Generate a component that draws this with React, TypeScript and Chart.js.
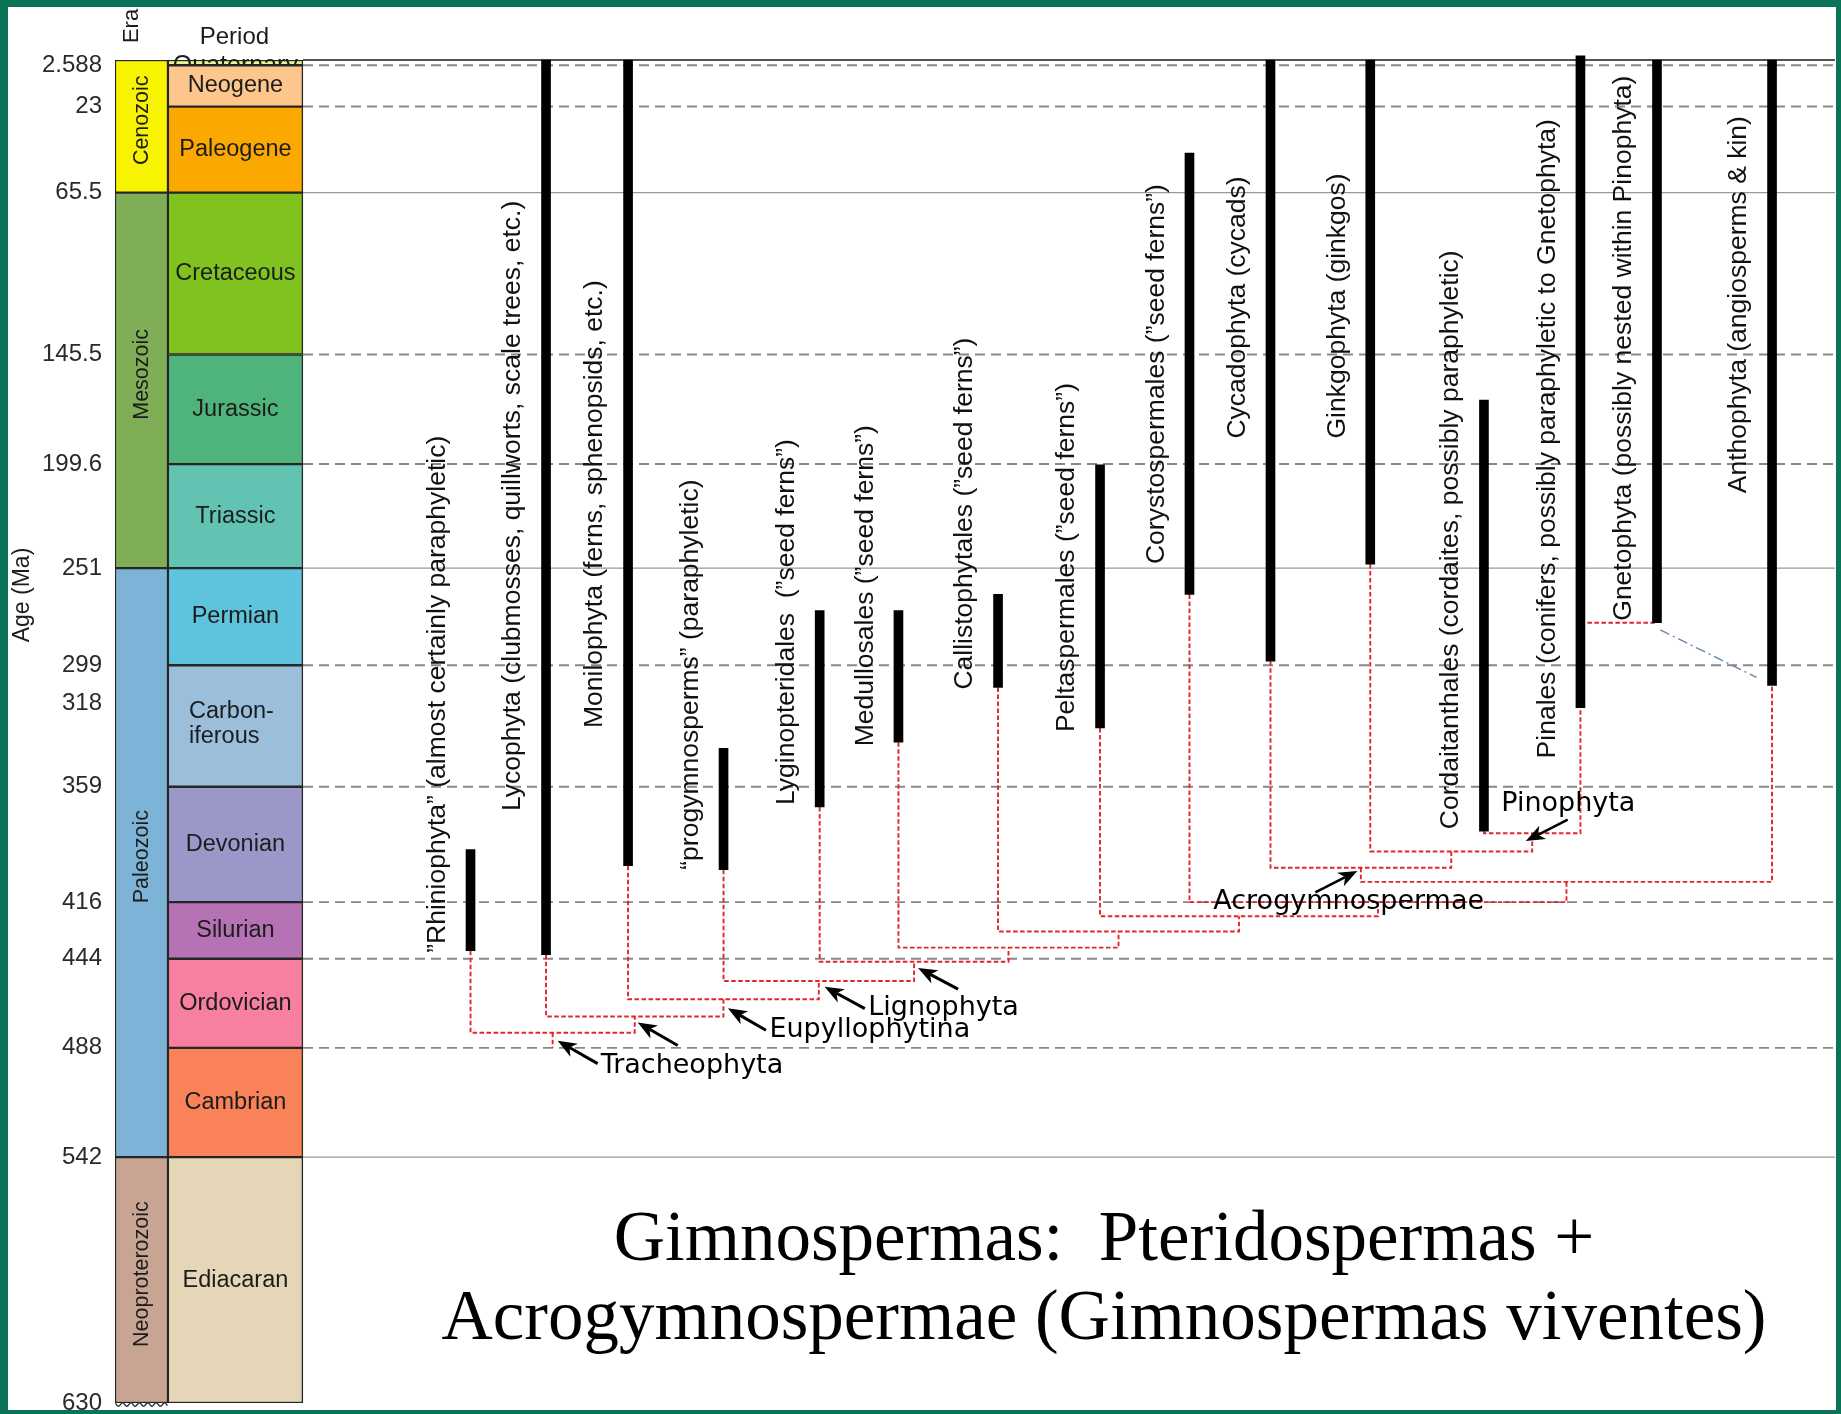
import React, { useEffect, useRef } from 'react';
import { Chart, registerables } from 'chart.js';

Chart.register(...registerables);

// ---------------- geologic time scale ----------------
const tickAges = [2.588, 23, 65.5, 145.5, 199.6, 251, 299, 318, 359, 416, 444, 488, 542, 630];
const tickLabels = ['2.588', '23', '65.5', '145.5', '199.6', '251', '299', '318', '359', '416', '444', '488', '542', '630'];

const eraNames = ['Cenozoic', 'Mesozoic', 'Paleozoic', 'Neoproterozoic'];
const eraStart = [0, 65.5, 251, 542];
const eraEnd = [65.5, 251, 542, 630];

const periodNames = ['Quaternary', 'Neogene', 'Paleogene', 'Cretaceous', 'Jurassic', 'Triassic', 'Permian', 'Carbon-\niferous', 'Devonian', 'Silurian', 'Ordovician', 'Cambrian', 'Ediacaran'];
const periodStart = [0, 2.588, 23, 65.5, 145.5, 199.6, 251, 299, 359, 416, 444, 488, 542];
const periodEnd = [2.588, 23, 65.5, 145.5, 199.6, 251, 299, 359, 416, 444, 488, 542, 630];

const dashedBoundaries = [2.588, 23, 145.5, 199.6, 299, 359, 416, 444, 488];
const solidBoundaries = [65.5, 251, 542];
const presentAge = 0;

// ---------------- lineages (ranges in Ma) ----------------
const taxonKeys = ['Rhin', 'Lyco', 'Moni', 'Prog', 'Lygi', 'Medu', 'Call', 'Pelt', 'Cory', 'Cyca', 'Gink', 'Cord', 'Pina', 'Gnet', 'Anth'];
const taxonLabels = [
  '\u201DRhiniophyta\u201D (almost certainly paraphyletic)',
  'Lycophyta (clubmosses, quillworts, scale trees, etc.)',
  'Monilophyta (ferns, sphenopsids, etc.)',
  '\u201Cprogymnosperms\u201D (paraphyletic)',
  'Lyginopteridales  (\u201Dseed ferns\u201D)',
  'Medullosales (\u201Dseed ferns\u201D)',
  'Callistophytales (\u201Dseed ferns\u201D)',
  'Peltaspermales (\u201Dseed ferns\u201D)',
  'Corystospermales (\u201Dseed ferns\u201D)',
  'Cycadophyta (cycads)',
  'Ginkgophyta (ginkgos)',
  'Cordaitanthales (cordaites, possibly paraphyletic)',
  'Pinales (conifers, possibly paraphyletic to Gnetophyta)',
  'Gnetophyta (possibly nested within Pinophyta)',
  'Anthophyta (angiosperms & kin)',
];
const taxonSlot = [20.67, 25.06, 29.83, 35.38, 40.97, 45.55, 51.34, 57.27, 62.47, 67.18, 72.98, 79.59, 85.2, 89.65, 96.34];
const taxonFirst = [390, 0, 0, 340, 272, 272, 264, 200, 46, 0, 0, 168, -2, 0, 0];
const taxonLast = [440, 442, 398, 400, 369, 337, 310, 330, 264, 297, 249, 381, 320, 278, 309];
const taxonLabelAge = [441, 371, 330, 400, 368, 339, 311, 332, 249, 187, 187, 380, 345, 277, 214];

// ---------------- cladogram (children listed before parents) ----------------
const cladeKeys = ['H', 'G', 'E', 'D', 'F', 'C', 'B', 'A', 'L', 'P', 'Eu', 'V', 'T'];
const cladeChildren = [
  ['Cord', 'Pina'], ['Gink', 'H'], ['Cyca', 'G'], ['E', 'Anth'], ['Cory', 'D'], ['Pelt', 'F'],
  ['Call', 'C'], ['Medu', 'B'], ['Lygi', 'A'], ['Prog', 'L'], ['Moni', 'P'], ['Lyco', 'Eu'], ['Rhin', 'V'],
];
const cladeAge = [382, 391, 399, 406, 416, 423, 430.5, 438.5, 445.5, 455, 464, 472.5, 480.5];
const rootStemAge = 488;
const nestedLink = ['Pina', 'Gnet'];
const uncertainLinkSlot = [89.84, 95.44];
const uncertainLinkAge = [281.5, 305];

const namedCladeKeys = ['T', 'V', 'Eu', 'P', 'L', 'E', 'H'];
const namedCladeText = ['Tracheophyta', '', 'Eupyllophytina', 'Lignophyta', '', 'Acrogymnospermae', 'Pinophyta'];

const titleLines = ['Gimnospermas:  Pteridospermas +', 'Acrogymnospermae (Gimnospermas viventes)'];

// ---------------- presentation ----------------
const EDIACARAN_STRETCH = 1.38;
const toY = (age: number) => (age <= 542 ? age : 542 + (age - 542) * EDIACARAN_STRETCH);

const ERA_COL = 1.54;
const PERIOD_COL = 7.0;
const PERIOD_EDGE = 10.93;
const X_MAX = 100;

const ERA_COLORS = ['#f8f300', '#7fae57', '#7cb3d6', '#c8a492'];
const PERIOD_COLORS = ['#eef58a', '#fcc68c', '#fba800', '#80c31e', '#4fb47c', '#63c3b3', '#5ec4de', '#9bbedb', '#9b98c9', '#b572b5', '#f77fa0', '#f98259', '#e6d6b8'];
const RED = '#e0262c';
const SANS = '"Liberation Sans", Arial, sans-serif';
const GREEN = '#0b7358';

const CLADE_MARKS: Record<string, any> = {
  T: { tip: [5, 8], tail: [45, 31], text: [48, 33.5], lw: 3 },
  V: { tip: [3, 6], tail: [43, 29], lw: 3 },
  Eu: { tip: [4.5, 9], tail: [42.5, 31], text: [46, 31], lw: 3 },
  P: { tip: [5.8, 5.7], tail: [46, 27.6], text: [49.4, 26.5], lw: 3 },
  L: { tip: [4, 6.2], tail: [44, 27.3], lw: 3 },
  E: { tip: [-3.5, 3.2], tail: [-45.5, 24.6], text: [-147.6, 34.4], lw: 2.5 },
  H: { tip: [-6.4, 7.8], tail: [35.5, -13.6], text: [-31, -29], lw: 2.5 },
};

// tree node positions
const nodePos: Record<string, { x: number; age: number }> = {};
taxonKeys.forEach((k, i) => { nodePos[k] = { x: taxonSlot[i], age: taxonLast[i] }; });
cladeKeys.forEach((k, i) => {
  const [l, r] = cladeChildren[i];
  nodePos[k] = { x: (nodePos[l].x + nodePos[r].x) / 2, age: cladeAge[i] };
});

function buildDatasets() {
  const ds: any[] = [];
  const hLine = (age: number, color: string, width: number, dash: number[]) => ({
    type: 'line',
    data: [{ x: PERIOD_EDGE, y: toY(age) }, { x: X_MAX, y: toY(age) }],
    borderColor: color, borderWidth: width, borderDash: dash,
    pointRadius: 0, fill: false, tension: 0, clip: false, order: 20,
  });
  dashedBoundaries.forEach((a) => ds.push(hLine(a, '#888888', 1.9, [10, 6])));
  solidBoundaries.forEach((a) => ds.push(hLine(a, '#999999', 1.2, [])));
  ds.push(hLine(presentAge, '#1a1a1a', 1.6, []));

  ds.push({
    type: 'bar', xAxisID: 'xEra', yAxisID: 'y',
    data: eraStart.map((s, i) => ({ x: ERA_COL, y: [toY(s), toY(eraEnd[i])] })),
    backgroundColor: ERA_COLORS, borderColor: '#262626', borderWidth: 1.5, borderSkipped: false,
    barThickness: 53, maxBarThickness: 53, grouped: false, order: 10,
  });
  ds.push({
    type: 'bar', xAxisID: 'xPer', yAxisID: 'y',
    data: periodStart.map((s, i) => ({ x: PERIOD_COL, y: [toY(s), toY(periodEnd[i])] })),
    backgroundColor: PERIOD_COLORS, borderColor: '#262626', borderWidth: 1.5, borderSkipped: false,
    barThickness: 135, maxBarThickness: 135, grouped: false, order: 9,
  });

  const redLine = (pts: { x: number; y: number }[]) => ({
    type: 'line', data: pts, borderColor: RED, borderWidth: 1.9, borderDash: [4.5, 2.5],
    pointRadius: 0, fill: false, tension: 0, order: 5,
  });
  cladeKeys.forEach((k, i) => {
    const [l, r] = cladeChildren[i];
    const a = nodePos[l], b = nodePos[r], n = nodePos[k];
    ds.push(redLine([
      { x: a.x, y: toY(a.age) }, { x: a.x, y: toY(n.age) },
      { x: b.x, y: toY(n.age) }, { x: b.x, y: toY(b.age) },
    ]));
  });
  const root = nodePos['T'];
  ds.push(redLine([{ x: root.x, y: toY(root.age) }, { x: root.x, y: toY(rootStemAge) }]));
  const na = nodePos[nestedLink[0]], nb = nodePos[nestedLink[1]];
  ds.push(redLine([{ x: na.x, y: toY(nb.age) }, { x: nb.x, y: toY(nb.age) }]));

  ds.push({
    type: 'line',
    data: [{ x: uncertainLinkSlot[0], y: toY(uncertainLinkAge[0]) }, { x: uncertainLinkSlot[1], y: toY(uncertainLinkAge[1]) }],
    borderColor: '#6a86a8', borderWidth: 1.4, borderDash: [10, 4, 2, 4],
    pointRadius: 0, fill: false, tension: 0, order: 5,
  });

  ds.push({
    type: 'bar', xAxisID: 'x', yAxisID: 'y',
    data: taxonSlot.map((s, i) => ({ x: s, y: [toY(taxonFirst[i]), toY(taxonLast[i])] })),
    backgroundColor: '#000', borderWidth: 0,
    barThickness: 9, maxBarThickness: 9, grouped: false, order: 1, clip: false,
  });
  return ds;
}

function drawArrow(ctx: CanvasRenderingContext2D, x1: number, y1: number, x2: number, y2: number, lw: number) {
  const ang = Math.atan2(y2 - y1, x2 - x1);
  const headLen = 19, headW = 15;
  const c = Math.cos(ang), s = Math.sin(ang);
  const bx = x2 - headLen * c, by = y2 - headLen * s;
  const nx = x2 - headLen * 0.72 * c, ny = y2 - headLen * 0.72 * s;
  ctx.beginPath();
  ctx.moveTo(x1, y1);
  ctx.lineTo(nx, ny);
  ctx.lineWidth = lw;
  ctx.stroke();
  ctx.beginPath();
  ctx.moveTo(x2, y2);
  ctx.lineTo(bx + (headW / 2) * s, by - (headW / 2) * c);
  ctx.lineTo(nx, ny);
  ctx.lineTo(bx - (headW / 2) * s, by + (headW / 2) * c);
  ctx.closePath();
  ctx.fill();
}

function rotText(ctx: CanvasRenderingContext2D, text: string, x: number, y: number, align: CanvasTextAlign) {
  ctx.save();
  ctx.translate(x, y);
  ctx.rotate(-Math.PI / 2);
  ctx.textAlign = align;
  ctx.textBaseline = 'middle';
  ctx.fillText(text, 0, 0);
  ctx.restore();
}

const phyloPlugin = {
  id: 'phyloAnnotations',
  beforeDraw(chart: any) {
    const { ctx, width, height } = chart;
    ctx.save();
    ctx.fillStyle = '#ffffff';
    ctx.fillRect(0, 0, width, height);
    ctx.restore();
  },
  afterDatasetsDraw(chart: any) {
    const { ctx } = chart;
    const xs = chart.scales.x, ys = chart.scales.y;
    const px = (u: number) => xs.getPixelForValue(u);
    const py = (age: number) => ys.getPixelForValue(toY(age));
    ctx.save();
    ctx.fillStyle = '#1c1c1c';

    // period names
    const perX = chart.scales.xPer.getPixelForValue(PERIOD_COL);
    ctx.font = `23.5px ${SANS}`;
    ctx.textBaseline = 'middle';
    periodNames.forEach((name, i) => {
      const y0 = py(periodStart[i]), y1 = py(periodEnd[i]);
      const mid = (y0 + y1) / 2;
      if (i === 0) {
        ctx.save();
        ctx.beginPath();
        ctx.rect(perX - 70, 0, 140, py(periodEnd[0]) - 0.8);
        ctx.clip();
        ctx.textAlign = 'center';
        ctx.textBaseline = 'alphabetic';
        ctx.font = `25px ${SANS}`;
        ctx.fillText(name, perX, y0 + 12.5);
        ctx.restore();
        return;
      }
      const lines = name.split('\n');
      if (lines.length > 1) {
        const w = Math.max(...lines.map((l) => ctx.measureText(l).width));
        ctx.textAlign = 'left';
        lines.forEach((l, k) => ctx.fillText(l, perX - w / 2 - 4, mid - 14 + k * 25));
      } else {
        ctx.textAlign = 'center';
        ctx.fillText(name, perX, mid);
      }
    });

    // era names
    const eraX = chart.scales.xEra.getPixelForValue(ERA_COL);
    ctx.font = `21.5px ${SANS}`;
    eraNames.forEach((name, i) => {
      const mid = (py(eraStart[i]) + py(eraEnd[i])) / 2;
      rotText(ctx, name, eraX + 1, mid - 6, 'center');
    });

    // wavy base of the column
    ctx.strokeStyle = '#333';
    ctx.lineWidth = 1.4;
    ctx.beginPath();
    const yb = py(630) + 1.5;
    for (let x = eraX - 26; x <= eraX + 26; x += 1) {
      const yy = yb + 1.8 * Math.sin((x - eraX) * 0.75);
      if (x === eraX - 26) ctx.moveTo(x, yy); else ctx.lineTo(x, yy);
    }
    ctx.stroke();

    // headers
    ctx.fillStyle = '#1c1c1c';
    ctx.font = `22px ${SANS}`;
    rotText(ctx, 'Era', eraX - 10, 26, 'center');
    ctx.font = `24px ${SANS}`;
    ctx.textAlign = 'center';
    ctx.textBaseline = 'middle';
    ctx.fillText('Period', perX - 1, 37);
    ctx.font = `23px ${SANS}`;
    rotText(ctx, 'Age (Ma)', 23, 595, 'center');

    // taxon labels (rotated)
    ctx.fillStyle = '#111';
    ctx.font = `26.5px ${SANS}`;
    taxonLabels.forEach((t, i) => {
      rotText(ctx, t, px(taxonSlot[i]) - 33, py(taxonLabelAge[i]), 'left');
    });

    // clade arrows & names
    ctx.fillStyle = '#000';
    ctx.strokeStyle = '#000';
    ctx.font = `27px "DejaVu Sans", ${SANS}`;
    ctx.textAlign = 'left';
    ctx.textBaseline = 'middle';
    namedCladeKeys.forEach((k, i) => {
      const m = CLADE_MARKS[k];
      const n = nodePos[k];
      const nx = px(n.x), ny = py(n.age);
      drawArrow(ctx, nx + m.tail[0], ny + m.tail[1], nx + m.tip[0], ny + m.tip[1], m.lw);
      if (namedCladeText[i] && m.text) ctx.fillText(namedCladeText[i], nx + m.text[0], ny + m.text[1]);
    });

    // title
    ctx.fillStyle = '#000';
    ctx.font = '71px "Liberation Serif", "Times New Roman", serif';
    ctx.textAlign = 'center';
    ctx.textBaseline = 'alphabetic';
    ctx.fillText(titleLines[0], 1104, 1260);
    ctx.fillText(titleLines[1], 1104, 1339);
    ctx.restore();
  },
  afterDraw(chart: any) {
    const { ctx, width, height } = chart;
    ctx.save();
    ctx.fillStyle = GREEN;
    ctx.fillRect(0, 0, width, 7);
    ctx.fillRect(0, 0, 8, height);
    ctx.fillRect(1836, 0, width - 1836, height);
    ctx.fillRect(0, 1410, width, height - 1410);
    ctx.restore();
  },
};

export default function App() {
  const ref = useRef<HTMLCanvasElement>(null);
  useEffect(() => {
    if (!ref.current) return;
    const hiddenX = { type: 'linear', min: 0, max: X_MAX, display: false, offset: false, grid: { display: false } };
    const chart = new Chart(ref.current, {
      type: 'line',
      data: { datasets: buildDatasets() },
      options: {
        responsive: false,
        animation: false,
        devicePixelRatio: 1,
        events: [],
        layout: { padding: { left: 0, top: 60, right: 6, bottom: 11 } },
        plugins: { legend: { display: false }, tooltip: { enabled: false } },
        scales: {
          x: { ...hiddenX },
          xEra: { ...hiddenX, axis: 'x' },
          xPer: { ...hiddenX, axis: 'x' },
          y: {
            type: 'linear', reverse: true, min: 0, max: toY(630), position: 'left',
            grid: { display: false, drawTicks: false },
            border: { display: false },
            ticks: {
              autoSkip: false, padding: 13, color: '#2a2a2a',
              font: { family: SANS, size: 24 },
              callback: (_v: any, i: number) => tickLabels[i],
            },
            afterBuildTicks: (scale: any) => { scale.ticks = tickAges.map((a) => ({ value: toY(a) })); },
            afterFit: (scale: any) => { scale.width = 115; scale.paddingTop = 0; scale.paddingBottom = 0; },
          },
        },
      } as any,
      plugins: [phyloPlugin],
    } as any);
    return () => chart.destroy();
  }, []);
  return (
    <div style={{ position: 'absolute', left: 0, top: 0, width: 1841, height: 1414, overflow: 'hidden', background: '#fff' }}>
      <canvas ref={ref} width={1841} height={1414} style={{ display: 'block', width: 1841, height: 1414 }} />
    </div>
  );
}
